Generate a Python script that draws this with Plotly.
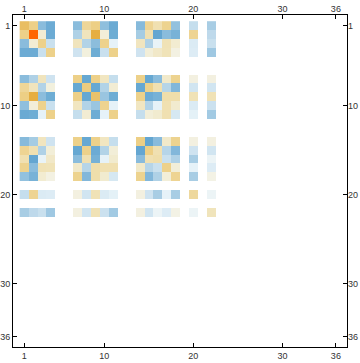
import plotly.graph_objects as go

N = 36
# Indices (1-based) of rows/columns that carry non-zero entries
idx = [1, 2, 3, 4, 7, 8, 9, 10, 11, 14, 15, 16, 17, 18, 20, 22]

# Upper triangle of the symmetric matrix, each row starting at its diagonal (in idx order)
u01 = [0.58, 0.45, -0.55, -0.8, -0.55, 0.38, 0.46, -0.52, -0.82, -0.58, 0.4, 0.27, 0.42, -0.5, -0.2, -0.36]
u02 = [1.0, 0.12, -0.8, -0.32, 0.22, 0.7, 0.1, -0.78, -0.38, 0.27, -0.88, -0.55, -0.7, 0.4, -0.24]
u03 = [0.44, -0.18, 0.22, -0.3, -0.54, 0.43, -0.05, 0.21, -0.32, -0.04, 0.25, 0.13, -0.1, -0.18]
u04 = [0.44, -0.15, 0.08, -0.78, -0.18, 0.44, -0.15, 0.1, 0.17, 0.24, 0.06, -0.09, -0.42]
u07 = [0.45, -0.85, 0.45, 0.2, -0.2, 0.44, -0.85, -0.55, 0.16, 0.42, 0.07, 0.07]
u08 = [0.48, -0.85, -0.3, 0.12, -0.85, 0.44, 0.27, -0.28, -0.62, -0.14, -0.14]
u09 = [0.55, -0.45, -0.78, 0.44, -0.8, -0.72, 0.3, 0.3, 0.25, 0.25]
u10 = [0.42, -0.05, 0.2, -0.3, -0.05, 0.27, 0.14, -0.1, -0.17]
u11 = [0.44, -0.2, 0.1, 0.14, 0.27, -0.12, -0.06, -0.4]
u14 = [0.46, -0.88, -0.56, 0.16, 0.42, 0.07, 0.07]
u15 = [0.46, 0.27, -0.28, -0.62, -0.15, -0.14]
u16 = [0.3, -0.18, -0.32, -0.36, -0.03]
u17 = [0.44, 0.1, -0.05, -0.09]
u18 = [0.4, -0.36, 0.05]
u20 = [0.36, -0.03]
u22 = [0.23]

tick_vals = [1, 10, 20, 30, 36]
tick_text = ["1", "10", "20", "30", "36"]

upper = [u01, u02, u03, u04, u07, u08, u09, u10, u11, u14, u15, u16, u17, u18, u20, u22]
z = [[None] * N for _ in range(N)]
for a, row in enumerate(upper):
    for k, v in enumerate(row):
        b = a + k
        i, j = idx[a] - 1, idx[b] - 1
        z[i][j] = v
        z[j][i] = v

cells = list(range(1, N + 1))

colorscale = [
    [0.0, "#5C9FCC"],
    [0.075, "#66A8D2"],
    [0.225, "#8ABCDC"],
    [0.35, "#B2D3E7"],
    [0.425, "#CFE3F0"],
    [0.475, "#E6F2F8"],
    [0.5, "#F4F6F2"],
    [0.55, "#F2EED8"],
    [0.625, "#F0E2B6"],
    [0.725, "#EDD088"],
    [0.85, "#E6AE40"],
    [1.0, "#FF6600"],
]

fig = go.Figure()
fig.add_trace(go.Heatmap(
    x=cells, y=cells, z=z, zmin=-1, zmax=1,
    colorscale=colorscale, showscale=False, hoverinfo="skip",
))
fig.add_trace(go.Scatter(x=[None], y=[None], xaxis="x2", yaxis="y2",
                         showlegend=False, hoverinfo="skip"))

xr = [-0.25, 37.25]
yr = [37.15, -0.2]
font = dict(family="Liberation Sans", size=9, color="#333333")
common = dict(tickvals=tick_vals, ticktext=tick_text, showgrid=False, zeroline=False,
              automargin=False, tickfont=font, fixedrange=True)

fig.update_layout(
    width=360, height=363,
    margin=dict(l=13, r=13, t=15, b=16),
    paper_bgcolor="white", plot_bgcolor="white",
    showlegend=False,
    xaxis=dict(range=xr, ticks="inside", ticklen=4, tickcolor="black", tickwidth=1,
               showline=True, linecolor="black", linewidth=1, mirror="ticks", **common),
    yaxis=dict(range=yr, ticks="inside", ticklen=4, tickcolor="black", tickwidth=1,
               showline=True, linecolor="black", linewidth=1, mirror="ticks", **common),
    xaxis2=dict(range=xr, overlaying="x", side="top", ticks="", showline=False, **common),
    yaxis2=dict(range=yr, overlaying="y", side="right", ticks="", showline=False, **common),
)

fig.write_html("out.html")
